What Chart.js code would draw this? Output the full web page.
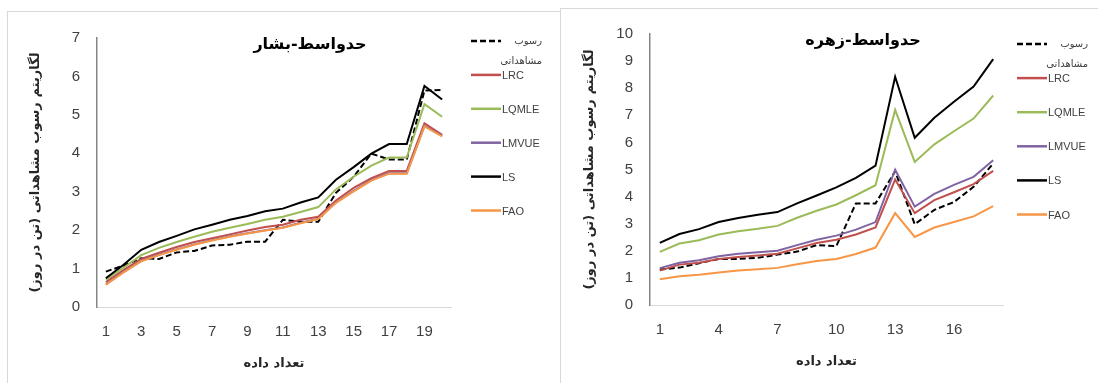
<!DOCTYPE html>
<html>
<head>
<meta charset="utf-8">
<script src="https://cdn.jsdelivr.net/npm/chart.js@4.4.1/dist/chart.umd.min.js"></script>
<style>
    html, body { margin: 0; padding: 0; background: #fff; }
    body { width: 1098px; height: 383px; position: relative; overflow: hidden; }
    .frame { position: absolute; border-top: 1px solid #d9d9d9; border-left: 1px solid #d9d9d9; background: #fff; }
    #frameLeft { left: 7px; top: 11px; width: 560px; height: 380px; }
    #frameRight { left: 560px; top: 8px; width: 545px; height: 380px; }
    .box { position: absolute; }
    #boxLeft { left: 7px; top: 12px; width: 541px; height: 371px; }
    #boxRight { left: 560px; top: 8px; width: 538px; height: 375px; }
</style>
</head>
<body>
<div class="frame" id="frameLeft"></div>
<div class="frame" id="frameRight"></div>
<div class="box" id="boxLeft"><canvas id="basharChart"></canvas></div>
<div class="box" id="boxRight"><canvas id="zohrehChart"></canvas></div>
<script>
// series order as in the legend
const seriesNames = ['رسوب مشاهداتی', 'LRC', 'LQMLE', 'LMVUE', 'LS', 'FAO'];

// حدواسط-بشار
const basharDays = ['1', '2', '3', '4', '5', '6', '7', '8', '9', '10',
    '11', '12', '13', '14', '15', '16', '17', '18', '19', '20'];
const basharObserved = [0.92, 1.08, 1.27, 1.25, 1.42, 1.46, 1.6, 1.62, 1.7, 1.7, 2.27, 2.22, 2.22, 2.97, 3.39, 3.99, 3.84, 3.84, 5.63, 5.65];
const basharLRC = [0.65, 0.96, 1.25, 1.41, 1.56, 1.69, 1.79, 1.89, 1.99, 2.08, 2.14, 2.27, 2.35, 2.77, 3.1, 3.35, 3.54, 3.54, 4.78, 4.48];
const basharLQMLE = [0.71, 1.02, 1.35, 1.54, 1.69, 1.83, 1.96, 2.06, 2.16, 2.27, 2.35, 2.47, 2.6, 3.06, 3.39, 3.68, 3.89, 3.89, 5.28, 4.95];
const basharLMVUE = [0.59, 0.91, 1.2, 1.36, 1.5, 1.63, 1.74, 1.84, 1.92, 2.0, 2.07, 2.19, 2.3, 2.72, 3.02, 3.3, 3.48, 3.48, 4.71, 4.45];
const basharLS = [0.75, 1.1, 1.49, 1.69, 1.85, 2.02, 2.14, 2.27, 2.37, 2.49, 2.56, 2.72, 2.85, 3.31, 3.64, 3.99, 4.24, 4.24, 5.75, 5.4];
const basharFAO = [0.58, 0.9, 1.19, 1.35, 1.49, 1.62, 1.73, 1.83, 1.91, 1.99, 2.06, 2.18, 2.29, 2.71, 3.01, 3.29, 3.47, 3.47, 4.7, 4.44];

// حدواسط-زهره
const zohrehDays = ['1', '2', '3', '4', '5', '6', '7', '8', '9',
    '10', '11', '12', '13', '14', '15', '16', '17', '18'];
const zohrehObserved = [1.31, 1.38, 1.54, 1.7, 1.7, 1.74, 1.86, 1.97, 2.21, 2.17, 3.75, 3.75, 4.93, 2.98, 3.51, 3.8, 4.36, 5.22];
const zohrehLRC = [1.27, 1.49, 1.56, 1.7, 1.77, 1.83, 1.89, 2.09, 2.29, 2.41, 2.6, 2.86, 4.63, 3.39, 3.87, 4.16, 4.46, 4.95];
const zohrehLQMLE = [1.96, 2.27, 2.39, 2.6, 2.72, 2.81, 2.92, 3.22, 3.48, 3.71, 4.05, 4.42, 7.2, 5.28, 5.93, 6.41, 6.88, 7.73];
const zohrehLMVUE = [1.36, 1.56, 1.65, 1.8, 1.89, 1.95, 2.0, 2.21, 2.41, 2.56, 2.78, 3.06, 4.99, 3.63, 4.1, 4.43, 4.73, 5.34];
const zohrehLS = [2.29, 2.62, 2.8, 3.06, 3.21, 3.33, 3.43, 3.75, 4.04, 4.34, 4.69, 5.14, 8.42, 6.17, 6.91, 7.5, 8.06, 9.07];
const zohrehFAO = [0.95, 1.06, 1.12, 1.2, 1.27, 1.32, 1.37, 1.5, 1.62, 1.7, 1.88, 2.12, 3.39, 2.51, 2.86, 3.06, 3.27, 3.65];

const seriesColors = ['#000000', '#c0504d', '#9bbb59', '#8064a2', '#000000', '#f79646'];
const ARABIC_FONT = '"DejaVu Sans", sans-serif';
const LATIN_FONT = '"Liberation Sans", Arial, sans-serif';

// title drawn inside the plot, like the excel chart
const innerTitle = {
    id: 'innerTitle',
    afterDraw(chart, args, opts) {
        const ctx = chart.ctx;
        ctx.save();
        ctx.font = 'bold 16px ' + ARABIC_FONT;
        ctx.fillStyle = '#000';
        ctx.textAlign = 'center';
        ctx.textBaseline = 'middle';
        ctx.fillText(opts.text, opts.x, opts.y);
        ctx.restore();
    }
};

// legend at the right, one row per series
const sideLegend = {
    id: 'sideLegend',
    afterDraw(chart, args, opts) {
        const ctx = chart.ctx;
        ctx.save();
        chart.data.datasets.forEach((ds, i) => {
            const y = opts.top + i * opts.gap;
            ctx.beginPath();
            ctx.strokeStyle = ds.borderColor;
            ctx.lineWidth = 2.5;
            ctx.setLineDash(ds.borderDash || []);
            ctx.moveTo(opts.left, y);
            ctx.lineTo(opts.left + 30, y);
            ctx.stroke();
            ctx.setLineDash([]);
            ctx.fillStyle = '#404040';
            ctx.textBaseline = 'middle';
            if (/[\u0600-\u06FF]/.test(ds.label)) {
                const words = ds.label.split(' ');
                ctx.font = '10px ' + ARABIC_FONT;
                ctx.textAlign = 'right';
                ctx.fillText(words[0], opts.left + 71, y);
                ctx.fillText(words.slice(1).join(' '), opts.left + 71, y + 20);
            } else {
                ctx.font = '11px ' + LATIN_FONT;
                ctx.textAlign = 'left';
                ctx.fillText(ds.label, opts.left + 31, y + 1);
            }
        });
        ctx.restore();
    }
};

function buildDatasets(values) {
    return values.map((data, i) => ({
        label: seriesNames[i],
        data: data,
        borderColor: seriesColors[i],
        backgroundColor: seriesColors[i],
        borderWidth: 2,
        borderDash: i === 0 ? [6, 3] : [],
        pointRadius: 0,
        tension: 0,
        fill: false,
        order: values.length - i,
    }));
}

function makeChart(canvasId, cfg) {
    const ctx = document.getElementById(canvasId).getContext('2d');
    return new Chart(ctx, {
        type: 'line',
        data: {
            labels: cfg.labels,
            datasets: buildDatasets(cfg.values),
        },
        plugins: [innerTitle, sideLegend],
        options: {
            responsive: true,
            maintainAspectRatio: false,
            animation: false,
            layout: { padding: cfg.padding },
            plugins: {
                legend: { display: false },
                tooltip: { enabled: false },
                innerTitle: cfg.title,
                sideLegend: cfg.legend,
            },
            scales: {
                x: {
                    offset: true,
                    grid: { display: false, drawTicks: false },
                    border: { color: '#d9d9d9', width: 1 },
                    ticks: {
                        autoSkip: false,
                        maxRotation: 0,
                        padding: 16,
                        color: '#404040',
                        font: { family: LATIN_FONT, size: 15 },
                        callback: function (val, idx) {
                            return idx % cfg.tickStep === 0 ? this.getLabelForValue(val) : '';
                        },
                    },
                    title: {
                        display: true,
                        text: 'تعداد داده',
                        color: '#262626',
                        font: { family: ARABIC_FONT, size: 13, weight: 'bold' },
                        padding: { top: 0, bottom: 0 },
                    },
                    afterFit: (scale) => { scale.height = 64; },
                },
                y: {
                    min: 0,
                    max: cfg.yMax,
                    grid: { display: false, drawTicks: false },
                    border: { color: '#868686', width: 1.5 },
                    ticks: {
                        stepSize: 1,
                        padding: 17,
                        color: '#404040',
                        font: { family: LATIN_FONT, size: 15 },
                    },
                    title: {
                        display: true,
                        text: 'لگاریتم رسوب مشاهداتی (تن در روز)\u200F',
                        color: '#262626',
                        font: { family: ARABIC_FONT, size: 13, weight: 'bold' },
                        padding: { top: cfg.yTitleGap, bottom: 0 },
                    },
                    afterFit: (scale) => { scale.width = 90; },
                },
            },
        },
    });
}

document.addEventListener('DOMContentLoaded', function () {
    makeChart('basharChart', {
        labels: basharDays,
        values: [basharObserved, basharLRC, basharLQMLE, basharLMVUE, basharLS, basharFAO],
        yMax: 7,
        tickStep: 2,
        yTitleGap: 21,
        padding: { left: 0, right: 97, top: 13, bottom: 12 },
        title: { text: 'حدواسط-بشار', x: 303, y: 33 },
        legend: { left: 464, top: 29, gap: 33.9 },
    });

    makeChart('zohrehChart', {
        labels: zohrehDays,
        values: [zohrehObserved, zohrehLRC, zohrehLQMLE, zohrehLMVUE, zohrehLS, zohrehFAO],
        yMax: 10,
        tickStep: 3,
        yTitleGap: 22,
        padding: { left: 0, right: 95, top: 14, bottom: 14 },
        title: { text: 'حدواسط-زهره', x: 303, y: 33 },
        legend: { left: 457, top: 36, gap: 34.1 },
    });
});
</script>
</body>
</html>
